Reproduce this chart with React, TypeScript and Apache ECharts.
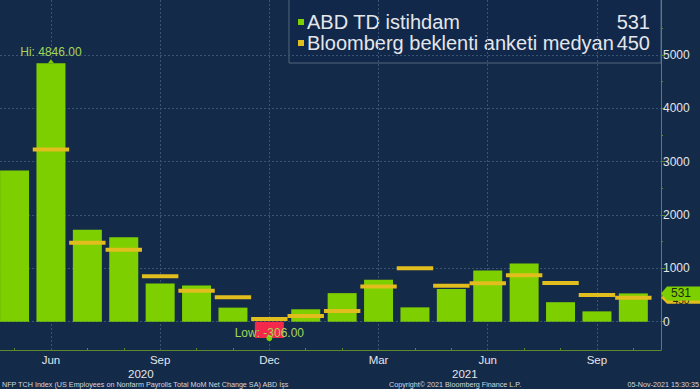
import React, { useEffect, useRef } from "react";
import * as echarts from "echarts";

const months = ["May", "Jun", "Jul", "Aug", "Sep", "Oct", "Nov", "Dec", "Jan", "Feb", "Mar", "Apr", "May", "Jun", "Jul", "Aug", "Sep", "Oct"];
const payrolls = [2833, 4846, 1726, 1583, 716, 680, 264, -306, 233, 536, 785, 269, 614, 962, 1091, 366, 194, 531];
const consensus: (number | null)[] = [null, 3230, 1480, 1350, 850, 580, 460, 50, 105, 200, 660, 1000, 675, 720, 870, 728, 500, 450];
const monthLabelIdx = [1, 4, 7, 10, 13, 16];
const yearLabels = ["2020", "2021"];
const yearLabelPos = [3.47, 12.37];
const yTicks = [0, 1000, 2000, 3000, 4000, 5000];
const yMinorTicks = [500, 1500, 2500, 3500, 4500, 5500];

const seriesNames = ["ABD TD istihdam", "Bloomberg beklenti anketi medyan"];
const footerLeft = "NFP TCH Index (US Employees on Nonfarm Payrolls Total MoM Net Change SA) ABD İşs";
const footerMid = "Copyright© 2021 Bloomberg Finance L.P.";
const footerRight = "05-Nov-2021 15:30:35";

const X_MIN = -0.4;
const X_MAX = 17.76;
const Y_MIN = -530;
const Y_MAX = 6030;

const BG = "#142a49";
const GREEN = "#7dcf00";
const RED = "#f4284b";
const YELLOW = "#e2bd1e";
const AXIS = "#5b8a2c";
const GRID = "#3a5574";
const TEXT = "#e4e6ea";
const FONT = "Liberation Sans";

export default function App() {
  const ref = useRef<HTMLDivElement>(null);
  useEffect(() => {
    if (!ref.current) return;
    const chart = echarts.init(ref.current, undefined, { renderer: "svg" });
    const hiVal = Math.max(...payrolls);
    const hiIdx = payrolls.indexOf(hiVal);
    const loVal = Math.min(...payrolls);
    const loIdx = payrolls.indexOf(loVal);
    const lastPay = payrolls[payrolls.length - 1];
    const lastCons = consensus[consensus.length - 1] as number;
    const tagPath = "path://M0,7 L6,0 L40,0 L40,14 L6,14 Z";

    chart.setOption({
      animation: false,
      backgroundColor: BG,
      textStyle: { fontFamily: FONT },
      grid: { left: 0, right: 39, top: 0, bottom: 39 },
      xAxis: [
        {
          type: "value",
          min: X_MIN,
          max: X_MAX,
          position: "bottom",
          axisLine: { show: true, onZero: false, lineStyle: { color: AXIS, width: 1 } },
          axisTick: { show: true, inside: true, customValues: months.map((_, i) => i), length: 2, lineStyle: { color: AXIS } },
          axisLabel: {
            customValues: monthLabelIdx,
            formatter: (v: number) => months[Math.round(v)],
            color: TEXT,
            fontSize: 11.5,
            margin: 4,
          },
          splitLine: { show: false },
        },
        {
          type: "value",
          min: X_MIN,
          max: X_MAX,
          position: "bottom",
          offset: 14,
          axisLine: { show: false, onZero: false },
          axisTick: { show: false },
          axisLabel: {
            customValues: yearLabelPos,
            formatter: (v: number) => yearLabels[yearLabelPos.indexOf(v)] ?? "",
            color: TEXT,
            fontSize: 11.5,
            margin: 4,
          },
          splitLine: { show: false },
        },
      ],
      yAxis: [
        {
          type: "value",
          min: Y_MIN,
          max: Y_MAX,
          position: "right",
          axisLine: { show: true, onZero: false, lineStyle: { color: AXIS, width: 1 } },
          axisTick: { show: true, customValues: yTicks, length: 4, lineStyle: { color: AXIS } },
          axisLabel: {
            customValues: yTicks,
            formatter: (v: number) => String(v),
            color: TEXT,
            fontSize: 12,
            margin: 2,
          },
          splitLine: { show: false },
        },
        {
          type: "value",
          min: Y_MIN,
          max: Y_MAX,
          position: "right",
          offset: 0,
          axisLine: { show: false, onZero: false },
          axisTick: { show: true, customValues: yMinorTicks, length: 2, lineStyle: { color: AXIS } },
          axisLabel: { show: false },
          splitLine: { show: false },
        },
      ],
      series: [
        {
          type: "bar",
          name: seriesNames[0],
          xAxisIndex: 0,
          yAxisIndex: 0,
          barWidth: 29,
          z: 2,
          data: payrolls.map((v, i) => ({
            value: [i, v],
            itemStyle: { color: v < 0 ? RED : GREEN },
          })),
          markLine: {
            silent: true,
            z: 1,
            symbol: "none",
            label: { show: false },
            lineStyle: { color: GRID, type: [2, 2], width: 1 },
            data: [
              ...yTicks.map((y) => ({ yAxis: y })),
              ...monthLabelIdx.map((x) => ({ xAxis: x })),
            ],
          },
          markPoint: {
            z: 6,
            silent: true,
            data: [
              {
                coord: [hiIdx, hiVal],
                symbol: "triangle",
                symbolSize: [6, 4],
                symbolOffset: [0, -2],
                itemStyle: { color: GREEN },
                label: {
                  show: true,
                  formatter: `Hi: ${hiVal.toFixed(2)}`,
                  position: "top",
                  distance: 1,
                  color: "#a4d65a",
                  fontSize: 12,
                },
              },
              {
                coord: [loIdx, loVal],
                symbol: "circle",
                symbolSize: 6,
                itemStyle: { color: GREEN },
                label: {
                  show: true,
                  formatter: `Low: ${loVal.toFixed(2)}`,
                  position: "top",
                  distance: 0,
                  offset: [0, 4],
                  color: "#a4d65a",
                  fontSize: 12,
                },
              },
              {
                coord: [X_MAX, lastPay],
                symbol: tagPath,
                symbolSize: [40, 14],
                symbolKeepAspect: false,
                symbolOffset: [20, 0],
                itemStyle: { color: GREEN },
                label: {
                  show: true,
                  formatter: String(lastPay),
                  position: "inside",
                  offset: [0, 0],
                  color: "#1b2a12",
                  fontSize: 12,
                },
              },
            ],
          },
        },
        {
          type: "custom",
          name: seriesNames[1],
          xAxisIndex: 0,
          yAxisIndex: 0,
          z: 3,
          data: consensus
            .map((v, i) => [i, v])
            .filter((d) => d[1] !== null),
          renderItem: (params: any, api: any) => {
            const c = api.coord([api.value(0), api.value(1)]);
            const w = api.size([1, 0])[0];
            return {
              type: "rect",
              shape: { x: c[0] - w / 2, y: c[1] - 2, width: w, height: 4 },
              style: { fill: YELLOW },
            };
          },
          markPoint: {
            z: 5,
            silent: true,
            data: [
              {
                coord: [X_MAX, lastCons],
                symbol: tagPath,
                symbolSize: [40, 12],
                symbolKeepAspect: false,
                symbolOffset: [20, 0],
                itemStyle: { color: YELLOW },
                label: {
                  show: true,
                  formatter: String(lastCons),
                  position: "inside",
                  offset: [0, 3],
                  color: "#1b2a12",
                  fontSize: 10,
                },
              },
            ],
          },
        },
      ],
      graphic: [
        {
          type: "group",
          z: 100,
          children: [
            {
              type: "rect",
              shape: { x: 289, y: -1, width: 372, height: 64 },
              style: { fill: "#11284a", stroke: "#55667c", lineWidth: 1 },
            },
            { type: "rect", shape: { x: 298, y: 19, width: 6, height: 6 }, style: { fill: GREEN } },
            { type: "rect", shape: { x: 298, y: 40, width: 6, height: 6 }, style: { fill: YELLOW } },
            {
              type: "text",
              x: 307,
              y: 22,
              style: { text: seriesNames[0], fill: TEXT, font: `20px '${FONT}'`, verticalAlign: "middle" },
            },
            {
              type: "text",
              x: 307,
              y: 43,
              style: { text: seriesNames[1], fill: TEXT, font: `20px '${FONT}'`, verticalAlign: "middle" },
            },
            {
              type: "text",
              x: 650,
              y: 22,
              style: { text: String(lastPay), fill: TEXT, font: `20px '${FONT}'`, align: "right", verticalAlign: "middle" },
            },
            {
              type: "text",
              x: 650,
              y: 43,
              style: { text: String(lastCons), fill: TEXT, font: `20px '${FONT}'`, align: "right", verticalAlign: "middle" },
            },
          ],
        },
        {
          type: "text",
          x: 2,
          y: 384,
          style: { text: footerLeft, fill: "#d4d7dc", font: `7.2px '${FONT}'`, verticalAlign: "middle" },
        },
        {
          type: "text",
          x: 389,
          y: 384,
          style: { text: footerMid, fill: "#d4d7dc", font: `7.2px '${FONT}'`, verticalAlign: "middle" },
        },
        {
          type: "text",
          x: 699,
          y: 384,
          style: { text: footerRight, fill: "#d4d7dc", font: `7.2px '${FONT}'`, align: "right", verticalAlign: "middle" },
        },
      ],
    });
    return () => chart.dispose();
  }, []);

  return (
    <div
      ref={ref}
      style={{ position: "fixed", left: 0, top: 0, width: 700, height: 389 }}
    />
  );
}
